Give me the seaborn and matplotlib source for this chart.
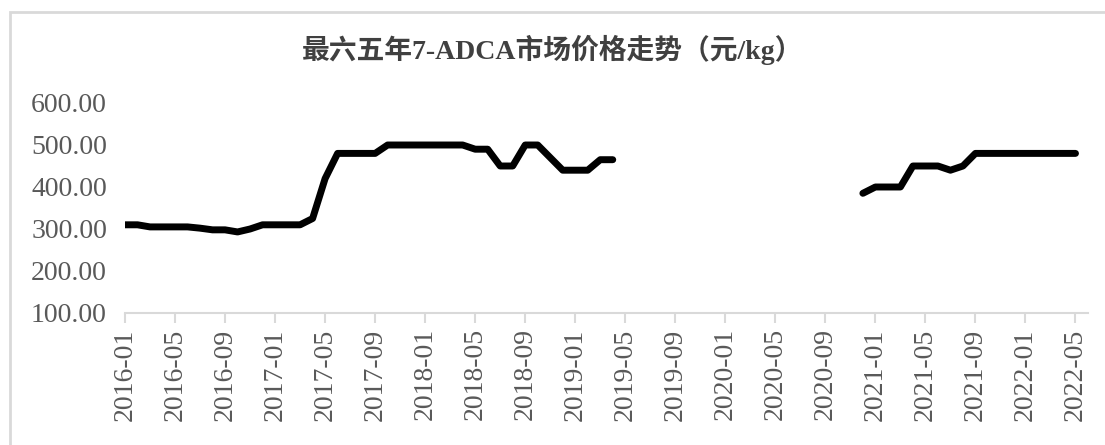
import pandas as pd
import numpy as np
import seaborn as sns
import matplotlib.pyplot as plt
from matplotlib.patches import Rectangle

# monthly prices (元/kg), None = no data
months = pd.date_range("2016-01", "2022-05", freq="MS").strftime("%Y-%m").tolist()
price_2016 = [310, 310, 305, 305, 305, 305, 302, 298, 298, 293, 300, 310]
price_2017 = [310, 310, 310, 325, 420, 480, 480, 480, 480, 500, 500, 500]
price_2018 = [500, 500, 500, 500, 490, 490, 450, 450, 500, 500, 470, 440]
price_2019 = [440, 440, 465, 465] + [None] * 8
price_2020 = [None] * 11 + [385]
price_2021 = [400, 400, 400, 450, 450, 450, 440, 450, 480, 480, 480, 480]
price_2022 = [480, 480, 480, 480, 480]

prices = price_2016 + price_2017 + price_2018 + price_2019 + price_2020 + price_2021 + price_2022

df = pd.DataFrame({"month": months, "price": prices})
df["idx"] = np.arange(len(df))
# split into segments so the gap is not bridged
df["seg"] = df["price"].isna().cumsum()
df = df.dropna()

sns.set_style("white")
plt.rcParams["font.family"] = ["Liberation Serif", "Noto Sans CJK SC", "DejaVu Sans"]

fig = plt.figure(figsize=(11.05, 4.45), dpi=100)
ax = fig.add_axes([125 / 1105, 1 - 313 / 445, (1088 - 125) / 1105, (313 - 103) / 445])

sns.lineplot(data=df, x="idx", y="price", units="seg", estimator=None,
             color="black", linewidth=5, ax=ax)

ax.set_xlim(0, 77)
ax.set_ylim(100, 600)
ax.set_yticks(range(100, 601, 100))
ax.set_yticklabels([f"{v:.2f}" for v in range(100, 601, 100)])
tick_pos = list(range(0, len(months), 4))
ax.set_xticks(tick_pos)
ax.set_xticklabels([months[i] for i in tick_pos], rotation=90)
ax.set_xlabel("")
ax.set_ylabel("")

for s in ["top", "right", "left"]:
    ax.spines[s].set_visible(False)
ax.spines["bottom"].set_color("#d9d9d9")
ax.spines["bottom"].set_linewidth(1.5)
ax.tick_params(axis="x", length=7, width=1.5, color="#d9d9d9", labelsize=20,
               labelcolor="#595959", pad=4, direction="out", bottom=True)
ax.tick_params(axis="y", length=0, labelsize=20, labelcolor="#595959", pad=13)

fig.text(0.5, 1 - 50 / 445, "最六五年7-ADCA市场价格走势（元/kg）", ha="center", va="center",
         fontsize=20, fontweight="bold", color="#404040")

# chart border
fig.patches.append(Rectangle((10 / 1105, -0.05), 1.2, 1 - 12 / 445 + 0.05,
                             transform=fig.transFigure, fill=False,
                             edgecolor="#d9d9d9", linewidth=2))

fig.savefig("out.png", dpi=100)
